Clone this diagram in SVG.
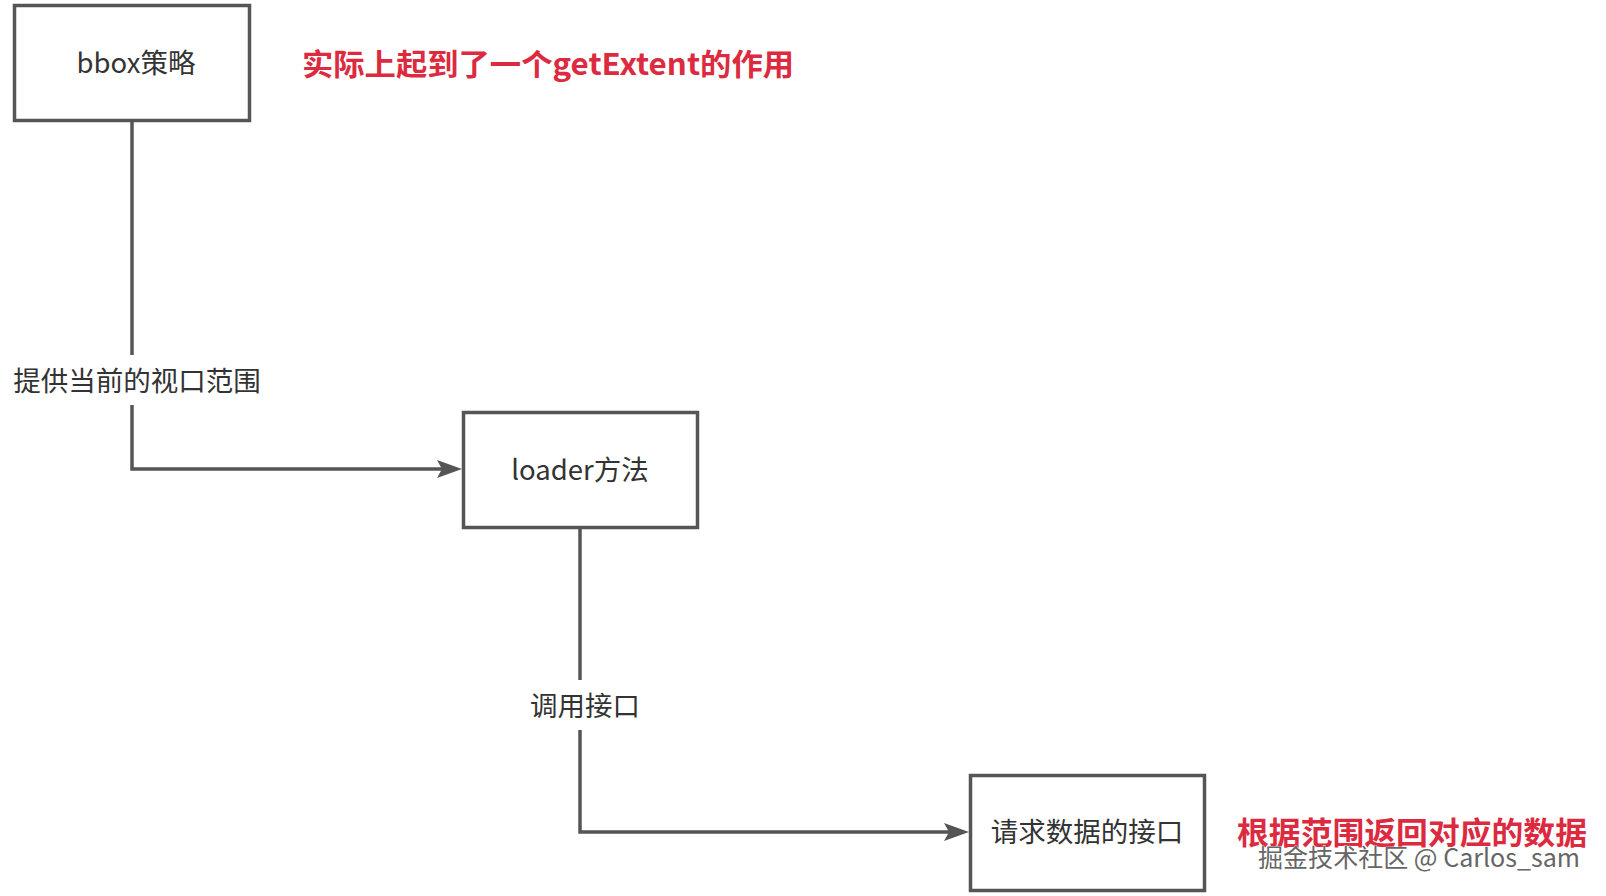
<svg xmlns="http://www.w3.org/2000/svg" width="1606" height="896" viewBox="0 0 1606 896">
<style>
.box{fill:#fff;stroke:#555;stroke-width:3.5}
.lbl{font-family:"Noto Sans CJK SC","Noto Sans",sans-serif;font-size:27.5px;fill:#333;text-anchor:middle;dominant-baseline:central}
.edge{fill:none;stroke:#555;stroke-width:3.5}
.head{fill:#555}
.red{font-family:"Noto Sans CJK SC","Noto Sans",sans-serif;font-weight:bold;fill:#dc2a40;dominant-baseline:central}
.wm{font-family:"Noto Sans CJK SC","Liberation Sans",sans-serif;fill:#666;stroke:#fff;stroke-width:0.6;paint-order:stroke;dominant-baseline:central}
</style>
<rect width="1606" height="896" fill="#fff"/>
<g id="connectors">
<path class="edge" d="M132 121 V469 H450"/>
<polygon class="head" points="462,469 437,460 442,469 437,478"/>
<rect x="8" y="355" width="262" height="50" fill="#fff"/>
<text class="lbl" x="137" y="379">提供当前的视口范围</text>
<path class="edge" d="M580 528 V832 H958"/>
<polygon class="head" points="969,832 944,823 949,832 944,841"/>
<rect x="524" y="680" width="122" height="50" fill="#fff"/>
<text class="lbl" x="585" y="704">调用接口</text>
</g>
<g id="bbox">
<rect class="box" x="14.5" y="5.5" width="235" height="115"/>
<text class="lbl" x="136" y="61">bbox策略</text>
</g>
<g id="loader">
<rect class="box" x="463.5" y="412.5" width="234" height="115"/>
<text class="lbl" x="580" y="468">loader方法</text>
</g>
<g id="api">
<rect class="box" x="970.5" y="775.5" width="234" height="115"/>
<text class="lbl" x="1087" y="830">请求数据的接口</text>
</g>
<g id="note1">
<text class="red" x="302" y="62" font-size="30" textLength="492" lengthAdjust="spacingAndGlyphs">实际上起到了一个getExtent的作用</text>
</g>
<g id="note2">
<text class="red" x="1237" y="830" font-size="31" textLength="350" lengthAdjust="spacingAndGlyphs">根据范围返回对应的数据</text>
</g>
<g id="watermark">
<text class="wm" x="1258" y="856" font-size="25" textLength="322" lengthAdjust="spacingAndGlyphs">掘金技术社区 @ Carlos_sam</text>
</g>
</svg>
